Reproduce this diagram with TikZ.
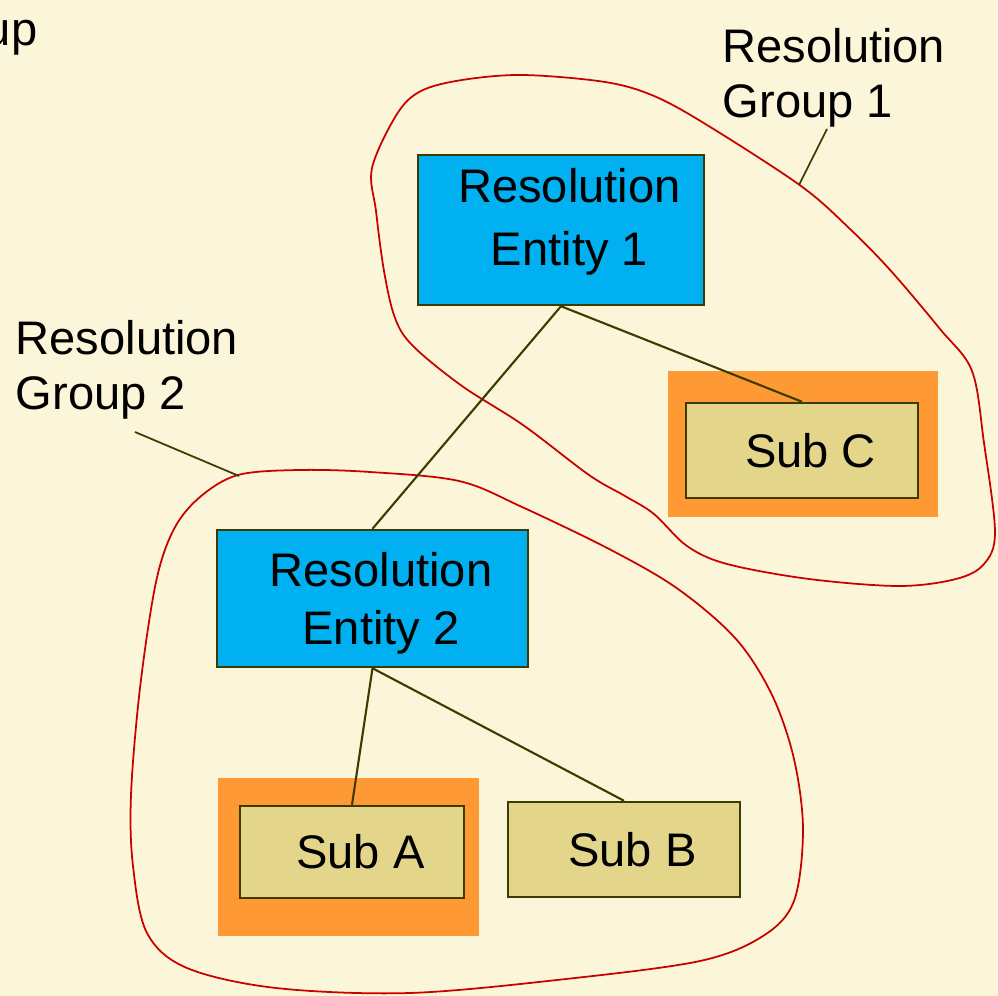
\documentclass[tikz,border=0pt]{standalone}
\usepackage{fontspec}
\setmainfont{Liberation Sans}
\definecolor{bgcream}{RGB}{251,246,217}
\definecolor{entblue}{RGB}{0,176,240}
\definecolor{subsand}{RGB}{227,214,138}
\definecolor{hiorange}{RGB}{255,153,51}
\definecolor{edgeolive}{RGB}{60,60,0}
\definecolor{grpred}{RGB}{200,0,0}
\begin{document}
\begin{tikzpicture}[
  ent/.style={draw=edgeolive, line width=0.7pt, fill=entblue, inner sep=0pt},
  sub/.style={draw=edgeolive, line width=0.7pt, fill=subsand, inner sep=0pt},
  boxtxt/.style={align=center, inner sep=0pt, xshift=0.085cm},
  link/.style={edgeolive, line width=0.6pt},
  grp/.style={grpred, line width=0.5pt},
  lbl/.style={align=left, inner sep=0pt, anchor=north west,
    font=\fontsize{13.4}{15.6}\selectfont}
]

% Фон
\fill[bgcream] (0,0) rectangle (9.98,-9.96);
\useasboundingbox (0,0) rectangle (9.98,-9.96);

% Обрезанная подпись слева сверху
\node[inner sep=0pt, anchor=base east, font=\fontsize{13.4}{15.6}\selectfont] (cutlbl) at (0.38,-0.46) {up};

% Группы (красные контуры)
\draw[grp] plot[smooth cycle, tension=0.55] coordinates {
  (3.72,-1.68) (3.76,-2.11) (3.84,-2.71) (3.95,-3.18) (4.13,-3.46) (4.62,-3.86)
  (5.23,-4.25) (5.89,-4.75) (6.25,-4.96) (6.54,-5.14) (6.87,-5.46) (7.27,-5.64)
  (8.09,-5.79) (8.99,-5.86) (9.56,-5.79) (9.84,-5.64) (9.95,-5.32) (9.84,-4.43)
  (9.72,-3.71) (9.40,-3.29) (8.91,-2.71) (8.50,-2.29) (8.01,-1.86) (7.07,-1.25)
  (6.54,-0.96) (6.05,-0.82) (5.23,-0.75) (4.62,-0.80) (4.21,-0.91) (3.97,-1.14)};
\draw[grp] plot[smooth cycle, tension=0.55] coordinates {
  (2.38,-4.75) (2.99,-4.70) (3.70,-4.72) (4.59,-4.81) (5.22,-5.07) (6.11,-5.50)
  (6.78,-5.89) (7.36,-6.39) (7.72,-6.95) (7.94,-7.59) (8.03,-8.30) (7.94,-9.01)
  (7.63,-9.36) (7.00,-9.61) (5.66,-9.79) (4.10,-9.93) (2.76,-9.88) (1.87,-9.68)
  (1.47,-9.33) (1.33,-8.66) (1.31,-7.95) (1.40,-6.88) (1.56,-5.82) (1.74,-5.29)
  (2.00,-4.97)};

% Выделение (оранжевые подложки)
\fill[hiorange] (6.68,-3.71) rectangle (9.38,-5.17);
\fill[hiorange] (2.18,-7.78) rectangle (4.79,-9.36);

% Блоки
\node[ent, minimum width=2.86cm, minimum height=1.50cm,
  label={[boxtxt, yshift=0.08cm, font=\fontsize{13.4}{17.9}\selectfont]center:Resolution\\Entity 1}]
  (ent1) at (5.61,-2.30) {};
\node[ent, minimum width=3.11cm, minimum height=1.37cm,
  label={[boxtxt, yshift=-0.045cm, font=\fontsize{13.4}{16.5}\selectfont]center:Resolution\\Entity 2}]
  (ent2) at (3.725,-5.985) {};
\node[sub, minimum width=2.32cm, minimum height=0.95cm,
  label={[boxtxt, font=\fontsize{13.4}{16}\selectfont]center:Sub C}] (subC) at (8.02,-4.505) {};
\node[sub, minimum width=2.24cm, minimum height=0.92cm,
  label={[boxtxt, font=\fontsize{13.4}{16}\selectfont]center:Sub A}] (subA) at (3.52,-8.52) {};
\node[sub, minimum width=2.32cm, minimum height=0.95cm,
  label={[boxtxt, font=\fontsize{13.4}{16}\selectfont]center:Sub B}] (subB) at (6.24,-8.495) {};

% Связи
\draw[link] (ent1.south) -- (ent2.north);
\draw[link] (ent1.south) -- (subC.north);
\draw[link] (ent2.south) -- (subA.north);
\draw[link] (ent2.south) -- (subB.north);

% Подписи групп
\node[lbl] (grp1lbl) at (7.22,-0.28) {Resolution\\Group 1};
\node[lbl] (grp2lbl) at (0.15,-3.20) {Resolution\\Group 2};
\coordinate (lead1a) at (8.27,-1.29);
\coordinate (lead1b) at (7.99,-1.85);
\coordinate (lead2a) at (1.35,-4.32);
\coordinate (lead2b) at (2.39,-4.76);
\draw[link, line width=0.5pt] (lead1a) -- (lead1b);
\draw[link, line width=0.5pt] (lead2a) -- (lead2b);
\end{tikzpicture}
\end{document}
